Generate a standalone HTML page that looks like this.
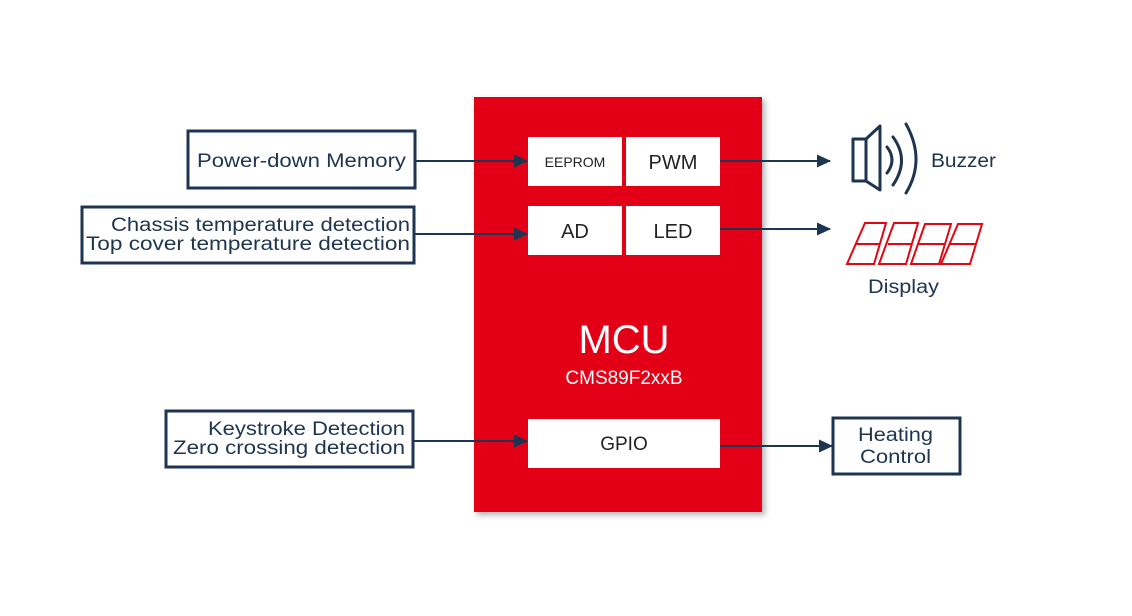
<!DOCTYPE html>
<html><head><meta charset="utf-8"><style>
html,body{margin:0;padding:0;background:#fff;}
svg{display:block;}
text{font-family:"Liberation Sans",sans-serif;}
</style></head><body>
<svg width="1132" height="616" viewBox="0 0 1132 616" xmlns="http://www.w3.org/2000/svg">
<defs>
<marker id="ar" markerWidth="14" markerHeight="13" refX="13" refY="6.5" orient="auto" markerUnits="userSpaceOnUse">
<path d="M0,0 L14,6.5 L0,13 Z" fill="#1d3550"/>
</marker>
<filter id="sh" x="-10%" y="-10%" width="130%" height="130%"><feDropShadow dx="3" dy="3" stdDeviation="3" flood-color="#000" flood-opacity="0.3"/></filter>
</defs>
<rect x="474" y="97" width="288" height="415" fill="#e30613" filter="url(#sh)"/>
<g fill="#fff">
<rect x="528" y="137" width="94" height="49"/>
<rect x="626" y="137" width="94" height="49"/>
<rect x="528" y="206" width="94" height="49"/>
<rect x="626" y="206" width="94" height="49"/>
<rect x="528" y="419" width="192" height="49"/>
</g>
<g fill="#222" text-anchor="middle">
<text x="575" y="167" font-size="14">EEPROM</text>
<text x="673" y="169" font-size="20">PWM</text>
<text x="575" y="238" font-size="20">AD</text>
<text x="673" y="238" font-size="20">LED</text>
<text x="624" y="450" font-size="19">GPIO</text>
</g>
<text x="624" y="353" font-size="40" fill="#fff" text-anchor="middle">MCU</text>
<text x="624" y="384" font-size="19" fill="#fff" text-anchor="middle">CMS89F2xxB</text>

<g fill="none" stroke="#1d3550" stroke-width="3">
<rect x="188" y="131" width="227" height="57"/>
<rect x="82" y="207" width="332" height="56"/>
<rect x="166" y="411" width="247" height="56"/>
<rect x="833" y="418" width="127" height="56"/>
</g>
<g stroke="#1d3550" stroke-width="2" marker-end="url(#ar)">
<line x1="415" y1="161" x2="527" y2="161"/>
<line x1="414" y1="234" x2="527" y2="234"/>
<line x1="413" y1="441" x2="527" y2="441"/>
<line x1="720" y1="161" x2="830" y2="161"/>
<line x1="720" y1="229" x2="830" y2="229"/>
<line x1="720" y1="446" x2="832" y2="446"/>
</g>
<g fill="#1d3550" font-size="19" text-anchor="end">
<text x="406" y="167" textLength="209" lengthAdjust="spacingAndGlyphs">Power-down Memory</text>
<text x="410" y="231" textLength="299" lengthAdjust="spacingAndGlyphs">Chassis temperature detection</text>
<text x="410" y="250" textLength="324" lengthAdjust="spacingAndGlyphs">Top cover temperature detection</text>
<text x="405" y="435" textLength="197" lengthAdjust="spacingAndGlyphs">Keystroke Detection</text>
<text x="405" y="454" textLength="232" lengthAdjust="spacingAndGlyphs">Zero crossing detection</text>
</g>
<g fill="#1d3550" font-size="19">
<text x="858" y="441" textLength="75" lengthAdjust="spacingAndGlyphs">Heating</text>
<text x="860" y="463" textLength="71" lengthAdjust="spacingAndGlyphs">Control</text>
<text x="931" y="167" textLength="65" lengthAdjust="spacingAndGlyphs">Buzzer</text>
<text x="868" y="293" textLength="71" lengthAdjust="spacingAndGlyphs">Display</text>
</g>
<g fill="none" stroke="#1d3550" stroke-width="3" stroke-linejoin="round" stroke-linecap="round">
<rect x="853" y="139" width="13" height="42"/>
<path d="M866,139 L880,126 L880,190 L866,181"/>
<path d="M887,147 Q897,160 887,173"/>
<path d="M893,137 Q910,160 893,185"/>
<path d="M906,124 Q926,160 906,193"/>
</g>
<g fill="none" stroke="#e30613" stroke-width="2">
<path d="M865,223 L886,223 L874,264 L847,264 Z M856,244 L880,244"/>
<path d="M894,223 L918,223 L906,264 L879,264 Z M888,244 L912,244"/>
<path d="M925,224 L951,224 L939,264 L911,264 Z M918,244 L945,244"/>
<path d="M958,224 L982,224 L970,264 L941,264 Z M950,244 L976,244"/>
</g>
</svg>
</body></html>
